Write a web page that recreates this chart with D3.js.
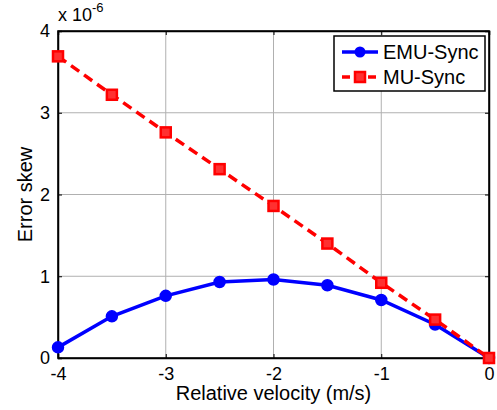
<!DOCTYPE html>
<html>
<head>
<script src="https://cdn.jsdelivr.net/npm/d3@7"></script>
<meta charset="utf-8">
<style>
    body { margin: 0; background: #fff; }
    text { font-family: "Liberation Sans", Arial, sans-serif; fill: #000; }
</style>
</head>
<body>
<svg width="497" height="410" id="mainsvg"></svg>
<script>
    // data (error skew in units of 1e-6)
    let velocity = [-4, -3.5, -3, -2.5, -2, -1.5, -1, -0.5, 0];
    let emuSync = [0.13, 0.51, 0.76, 0.93, 0.96, 0.89, 0.71, 0.41, 0];
    let muSync = [3.69, 3.22, 2.76, 2.31, 1.86, 1.40, 0.92, 0.47, 0];
    let xTicks = [-4, -3, -2, -1, 0];
    let yTicks = [0, 1, 2, 3, 4];

    let mainsvg = d3.select('#mainsvg');
    let margin = {left: 58, top: 31, right: 8, bottom: 52};
    let width = 497 - margin.left - margin.right;
    let height = 410 - margin.top - margin.bottom;
    let maingroup = mainsvg.append('g')
        .attr('transform', `translate(${margin.left},${margin.top})`);

    let x = d3.scaleLinear().domain([-4, 0]).range([0, width]);
    let y = d3.scaleLinear().domain([0, 4]).range([height, 0]);

    // grid
    maingroup.append('g').selectAll('line').data(xTicks).join('line')
        .attr('x1', d => x(d)).attr('x2', d => x(d))
        .attr('y1', 0).attr('y2', height)
        .attr('stroke', '#b0b0b0').attr('stroke-width', 1);
    maingroup.append('g').selectAll('line').data(yTicks).join('line')
        .attr('x1', 0).attr('x2', width)
        .attr('y1', d => y(d)).attr('y2', d => y(d))
        .attr('stroke', '#b0b0b0').attr('stroke-width', 1);

    // axes, ticks pointing inward
    let fmt = d => String(d);
    let xAxis = d3.axisBottom(x).tickValues(xTicks).tickSize(-4).tickPadding(9).tickFormat(fmt);
    let yAxis = d3.axisLeft(y).tickValues(yTicks).tickSize(-4).tickPadding(8).tickFormat(fmt);
    let gx = maingroup.append('g').attr('transform', `translate(0,${height})`).call(xAxis);
    let gy = maingroup.append('g').call(yAxis);
    let gxTop = maingroup.append('g').call(d3.axisTop(x).tickValues(xTicks).tickSize(-4).tickFormat(''));
    let gyRight = maingroup.append('g').attr('transform', `translate(${width},0)`)
        .call(d3.axisRight(y).tickValues(yTicks).tickSize(-4).tickFormat(''));
    [gx, gy, gxTop, gyRight].forEach(g => {
        g.select('.domain').attr('stroke', '#000').attr('stroke-width', 1.5);
        g.selectAll('.tick line').attr('stroke', '#000');
        g.selectAll('.tick text').style('font-size', '18px').style('font-family', '"Liberation Sans", Arial, sans-serif');
    });
    maingroup.append('rect')
        .attr('x', 0).attr('y', 0).attr('width', width).attr('height', height)
        .attr('fill', 'none').attr('stroke', '#000').attr('stroke-width', 1.5);

    // lines
    let line = d3.line().x((d, i) => x(velocity[i])).y(d => y(d));
    maingroup.append('path').datum(emuSync)
        .attr('d', line).attr('fill', 'none')
        .attr('stroke', '#0000ff').attr('stroke-width', 3.5);
    maingroup.append('g').selectAll('circle').data(emuSync).join('circle')
        .attr('cx', (d, i) => x(velocity[i])).attr('cy', d => y(d)).attr('r', 5.5)
        .attr('fill', '#0000ff').attr('stroke', '#0000ff').attr('stroke-width', 1.5);

    maingroup.append('path').datum(muSync)
        .attr('d', line).attr('fill', 'none')
        .attr('stroke', '#ff0000').attr('stroke-width', 3.5)
        .attr('stroke-dasharray', '10,6');
    maingroup.append('g').selectAll('rect').data(muSync).join('rect')
        .attr('x', (d, i) => x(velocity[i]) - 5).attr('y', d => y(d) - 5)
        .attr('width', 10).attr('height', 10)
        .attr('fill', '#ff3030').attr('stroke', '#ff0000').attr('stroke-width', 2.5);

    // exponent label
    let expo = mainsvg.append('text').attr('x', 58).attr('y', 21).style('font-size', '18px');
    expo.append('tspan').text('x 10');
    expo.append('tspan').attr('dy', -9).style('font-size', '13px').text('-6');

    // axis labels
    mainsvg.append('text')
        .attr('x', margin.left + width / 2).attr('y', 400)
        .attr('text-anchor', 'middle').style('font-size', '20px')
        .text('Relative velocity (m/s)');
    mainsvg.append('text')
        .attr('transform', `translate(32,${margin.top + height / 2}) rotate(-90)`)
        .attr('text-anchor', 'middle').style('font-size', '20px')
        .text('Error skew');

    // legend
    let legend = maingroup.append('g').attr('transform', `translate(${x(-4) + 276},5)`);
    legend.append('rect').attr('width', 151).attr('height', 55)
        .attr('fill', '#fff').attr('stroke', '#000').attr('stroke-width', 1.5);
    let items = [
        {name: 'EMU-Sync', color: '#0000ff', dash: null, shape: 'circle'},
        {name: 'MU-Sync', color: '#ff0000', dash: '8,5', shape: 'rect'}
    ];
    items.forEach((it, i) => {
        let cy = 16 + i * 25;
        legend.append('line').attr('x1', 8).attr('x2', 44).attr('y1', cy).attr('y2', cy)
            .attr('stroke', it.color).attr('stroke-width', 3.5)
            .attr('stroke-dasharray', it.dash);
        if (it.shape === 'circle') {
            legend.append('circle').attr('cx', 26).attr('cy', cy).attr('r', 5.5).attr('fill', it.color);
        } else {
            legend.append('rect').attr('x', 21).attr('y', cy - 5).attr('width', 10).attr('height', 10)
                .attr('fill', '#ff3030').attr('stroke', it.color).attr('stroke-width', 2.5);
        }
        legend.append('text').attr('x', 49).attr('y', cy + 7).style('font-size', '20px').text(it.name);
    });
</script>
</body>
</html>
